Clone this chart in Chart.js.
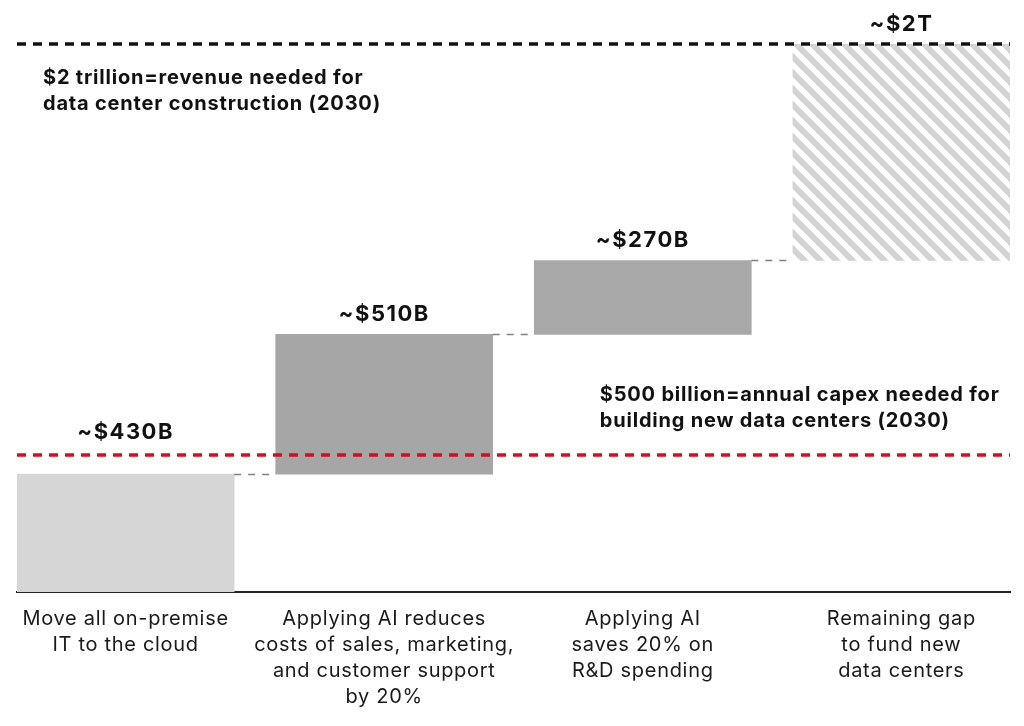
<!DOCTYPE html>
<html>
<head>
<meta charset="utf-8">
<script src="https://cdn.jsdelivr.net/npm/chart.js@4/dist/chart.umd.min.js"></script>
<style>
  html, body { margin: 0; padding: 0; background: #fff; }
  #wrap { width: 1024px; height: 726px; }
</style>
</head>
<body>
<div id="wrap"><canvas id="gapChart" width="1024" height="726"></canvas></div>
<script>
// categories (x tick labels, multi-line)
const categories = [
  ['Move all on-premise', 'IT to the cloud'],
  ['Applying AI reduces', 'costs of sales, marketing,', 'and customer support', 'by 20%'],
  ['Applying AI', 'saves 20% on', 'R&D spending'],
  ['Remaining gap', 'to fund new', 'data centers']
];
// step sizes, $ billions
const values = [430, 510, 270, 790];
const valueLabels = ['~$430B', '~$510B', '~$270B', '~$2T'];
const revenueNeeded = 2000;
const capexNeeded = 500;
const revenueNote = ['$2 trillion=revenue needed for', 'data center construction (2030)'];
const capexNote = ['$500 billion=annual capex needed for', 'building new data centers (2030)'];

const FONT = 'Inter, "Noto Sans", sans-serif';

// waterfall: each bar floats from the running total
const floating = [];
let run = 0;
values.forEach((v, i) => {
  floating.push({ x: i, y: [run, run + v] });
  run += v;
});

// hatch for the remaining gap
function makeHatch() {
  const c = document.createElement('canvas');
  c.width = 16; c.height = 16;
  const g = c.getContext('2d');
  g.strokeStyle = '#d3d3d3';
  g.lineWidth = 6;
  [[-4, -4, 20, 20], [-4, 12, 4, 20], [12, -4, 20, 4]].forEach(l => {
    g.beginPath(); g.moveTo(l[0], l[1]); g.lineTo(l[2], l[3]); g.stroke();
  });
  return g.createPattern(c, 'repeat');
}

const extras = {
  id: 'extras',
  beforeDraw(chart) {
    // reference font is wider than Inter, open it up a little
    chart.ctx.letterSpacing = '0.7px';
  },
  afterDatasetsDraw(chart) {
    const ctx = chart.ctx;
    const xs = chart.scales.x, ys = chart.scales.y;
    const area = chart.chartArea;
    const bars = chart.getDatasetMeta(0).data;
    ctx.save();

    // connectors between steps
    ctx.strokeStyle = '#808080';
    ctx.lineWidth = 1.5;
    ctx.setLineDash([7, 7]);
    let total = 0;
    for (let i = 0; i < bars.length - 1; i++) {
      total += values[i];
      const y = Math.round(ys.getPixelForValue(total)) + 0.5;
      ctx.beginPath();
      ctx.moveTo(bars[i].x + bars[i].width / 2, y);
      ctx.lineTo(bars[i + 1].x - bars[i + 1].width / 2, y);
      ctx.stroke();
    }

    // reference lines
    ctx.lineWidth = 3.5;
    ctx.setLineDash([9, 7]);
    const yRev = ys.getPixelForValue(revenueNeeded);
    const yCap = ys.getPixelForValue(capexNeeded);
    ctx.strokeStyle = '#111';
    ctx.beginPath(); ctx.moveTo(area.left, yRev); ctx.lineTo(area.right, yRev); ctx.stroke();
    ctx.strokeStyle = '#d0101b';
    ctx.beginPath(); ctx.moveTo(area.left, yCap); ctx.lineTo(area.right, yCap); ctx.stroke();
    ctx.setLineDash([]);

    // notes
    ctx.fillStyle = '#111';
    ctx.letterSpacing = '0.8px';
    ctx.font = '700 20px ' + FONT;
    ctx.textAlign = 'left';
    ctx.textBaseline = 'middle';
    revenueNote.forEach((t, i) => ctx.fillText(t, area.left + 26, yRev + 34 + i * 26));
    capexNote.forEach((t, i) => ctx.fillText(t, xs.getPixelForValue(2) - 43, yCap - 60 + i * 26));

    // value labels
    ctx.letterSpacing = '1.5px';
    ctx.font = '700 22px ' + FONT;
    ctx.textAlign = 'center';
    bars.forEach((b, i) => {
      let y = b.y - 20;
      if (y > yCap - 30 && b.y > yCap) y = yCap - 23;
      ctx.fillText(valueLabels[i], b.x, y);
    });
    ctx.restore();
    ctx.letterSpacing = '0.7px';
  }
};

new Chart(document.getElementById('gapChart').getContext('2d'), {
  type: 'bar',
  data: {
    datasets: [{
      data: floating,
      backgroundColor: ['#d6d6d6', '#a6a6a6', '#a8a8a8', makeHatch()],
      borderWidth: 0,
      barThickness: 217
    }]
  },
  options: {
    responsive: false,
    animation: false,
    layout: { padding: { left: 17, right: 14, top: 44, bottom: 0 } },
    plugins: { legend: { display: false }, tooltip: { enabled: false } },
    scales: {
      x: {
        type: 'linear',
        offset: false,
        min: -0.42,
        max: 3.42,
        grid: { display: false, drawTicks: false },
        border: { display: true, color: '#222', width: 2 },
        afterBuildTicks: s => { s.ticks = categories.map((c, i) => ({ value: i })); },
        afterFit: s => { s.height = 134; },
        ticks: {
          autoSkip: false,
          maxRotation: 0,
          padding: 14,
          color: '#1a1a1a',
          font: { family: FONT, size: 20, lineHeight: 1.3 },
          callback: v => categories[v]
        }
      },
      y: {
        display: false,
        min: 0,
        max: revenueNeeded
      }
    }
  },
  plugins: [extras]
});
</script>
</body>
</html>
